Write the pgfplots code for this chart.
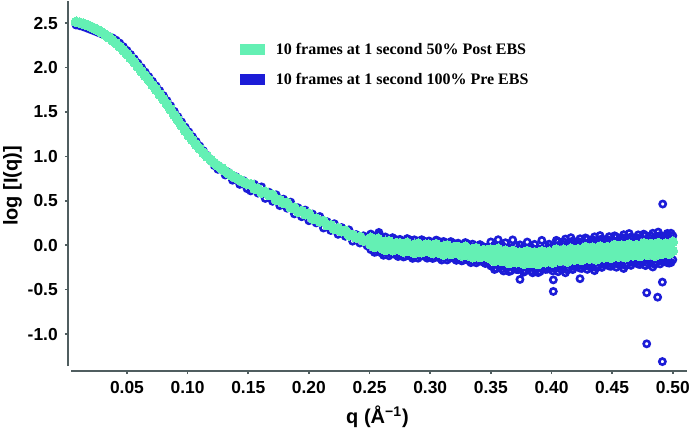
\documentclass[border=0pt]{standalone}
\usepackage{pgfplots}
\pgfplotsset{compat=1.18}
\usepackage{fontspec}
\setmainfont{Liberation Sans}
\newfontfamily\legfont{Liberation Serif}
\definecolor{greenc}{RGB}{100,240,180}
\definecolor{bluec}{RGB}{28,28,215}
\definecolor{axisc}{RGB}{80,94,96}
\begin{document}
\begin{tikzpicture}
\begin{axis}[
  scale only axis, width=309.5pt, height=185pt,
  xmin=0.0014, xmax=0.5117, ymin=-1.416, ymax=2.75,
  clip=false,
  axis lines=left, axis line style={-, draw=none},
  tick align=outside, major tick length=1.6pt,
  tick style={draw=axisc, line width=0.8pt},
  xtick={0.05,0.10,0.15,0.20,0.25,0.30,0.35,0.40,0.45,0.50},
  xticklabels={0.05,0.10,0.15,0.20,0.25,0.30,0.35,0.40,0.45,0.50},
  ytick={-1.0,-0.5,0,0.5,1.0,1.5,2.0,2.5},
  yticklabels={-1.0,-0.5,0.0,0.5,1.0,1.5,2.0,2.5},
  ticklabel style={font=\bfseries\fontsize{8.7}{10}\selectfont},
  /pgf/number format/assume math mode=true,
  xlabel={q (Å\textsuperscript{−1})},
  ylabel={log [I(q)]},
  label style={font=\bfseries\fontsize{10}{12}\selectfont},
  xlabel style={at={(axis description cs:0.5,-0.124)}, anchor=center},
  ylabel style={at={(axis description cs:-0.0897,0.5)}, anchor=center},
  legend style={at={(axis description cs:0.278,0.889)}, anchor=north west, draw=none, fill=none,
    inner sep=0pt, outer sep=0pt, row sep=7.5pt, column sep=5.5pt,
    font=\legfont\bfseries\fontsize{8}{9.6}\selectfont,
    nodes={inner sep=0pt, text height=6pt, text depth=1.5pt}},
  legend cell align=left,
]
\addlegendimage{legend image code/.code={\fill[greenc] (0pt,-2.5pt) rectangle (12pt,2.5pt);}}
\addlegendentry{10 frames at 1 second 50\% Post EBS}
\addlegendimage{legend image code/.code={\fill[bluec] (0pt,-2.5pt) rectangle (12pt,2.5pt);}}
\addlegendentry{10 frames at 1 second 100\% Pre EBS}

% blue: 100% Pre EBS
\addplot[bluec, forget plot, only marks, mark=o, mark size=1.55pt, mark options={draw=bluec, line width=1.3pt}] coordinates {
(0.008,2.480)(0.011,2.472)(0.014,2.460)(0.017,2.445)(0.020,2.429)(0.023,2.413)(0.026,2.397)(0.029,2.380)
(0.032,2.363)(0.035,2.351)(0.038,2.334)(0.041,2.309)(0.044,2.276)(0.047,2.236)(0.050,2.193)(0.053,2.147)
(0.056,2.099)(0.059,2.050)(0.062,2.000)(0.065,1.950)(0.068,1.898)(0.071,1.846)(0.074,1.794)(0.077,1.740)
(0.080,1.685)(0.083,1.628)(0.086,1.570)(0.089,1.508)(0.092,1.447)(0.095,1.388)(0.098,1.330)(0.101,1.276)
(0.104,1.222)(0.107,1.169)(0.110,1.117)(0.113,1.064)(0.116,1.012)(0.119,0.952)(0.122,0.897)(0.125,0.855)
(0.128,0.870)(0.131,0.791)(0.134,0.818)(0.137,0.732)(0.140,0.770)(0.143,0.685)(0.146,0.728)(0.149,0.637)
(0.152,0.612)(0.155,0.687)(0.158,0.587)(0.161,0.657)(0.164,0.527)(0.167,0.597)(0.170,0.495)(0.173,0.568)
(0.176,0.446)(0.179,0.519)(0.182,0.417)(0.185,0.485)(0.188,0.353)(0.191,0.422)(0.194,0.321)(0.197,0.396)
(0.200,0.276)(0.203,0.351)(0.206,0.252)(0.209,0.323)(0.212,0.194)(0.215,0.265)(0.218,0.166)(0.221,0.242)
(0.224,0.123)(0.227,0.199)(0.230,0.101)(0.233,0.173)(0.236,0.046)(0.239,0.120)(0.242,0.025)(0.245,0.106)
(0.248,-0.007)
(0.251,0.126)(0.251,-0.049)(0.254,0.090)(0.254,-0.080)(0.257,0.120)(0.257,-0.050)(0.260,0.081)(0.260,-0.089)
(0.263,0.093)(0.263,-0.077)(0.266,0.051)(0.266,-0.119)(0.269,0.085)(0.269,-0.075)(0.272,0.060)(0.272,-0.110)
(0.275,0.066)(0.275,-0.109)(0.278,0.038)(0.278,-0.132)(0.281,0.075)(0.281,-0.095)(0.284,0.043)(0.284,-0.127)
(0.287,0.061)(0.287,-0.109)(0.290,0.024)(0.290,-0.146)(0.293,0.062)(0.293,-0.098)(0.296,0.040)(0.296,-0.130)
(0.299,0.048)(0.299,-0.127)(0.302,0.021)(0.302,-0.149)(0.305,0.058)(0.305,-0.112)(0.308,0.025)(0.308,-0.145)
(0.311,0.042)(0.311,-0.128)(0.314,0.004)(0.314,-0.166)(0.317,0.041)(0.317,-0.119)(0.320,0.017)(0.320,-0.153)
(0.323,0.023)(0.323,-0.152)(0.326,-0.006)(0.326,-0.176)(0.329,0.030)(0.329,-0.140)(0.332,-0.004)(0.332,-0.174)
(0.335,0.012)(0.335,-0.158)(0.338,-0.028)(0.338,-0.198)(0.341,0.007)(0.341,-0.153)(0.344,-0.018)(0.344,-0.193)
(0.347,-0.023)(0.347,-0.188)
(0.2525,0.106)(0.2555,-0.075)(0.2585,0.106)(0.2615,-0.113)(0.2645,0.060)(0.2675,-0.097)(0.2705,0.068)(0.2735,-0.127)
(0.2765,0.050)(0.2795,-0.124)(0.2825,0.064)(0.2855,-0.148)(0.2885,0.030)(0.2915,-0.122)(0.2945,0.046)(0.2975,-0.146)
(0.3005,0.032)(0.3035,-0.141)(0.3065,0.047)(0.3095,-0.167)(0.3125,0.011)(0.3155,-0.143)(0.3185,0.024)(0.3215,-0.170)
(0.3245,0.006)(0.3275,-0.168)(0.3305,0.018)(0.3335,-0.196)(0.3365,-0.021)(0.3395,-0.176)(0.3425,-0.011)(0.3455,-0.206)
(0.3485,-0.031)
(0.350,0.037)(0.350,-0.233)(0.353,0.002)(0.353,-0.273)(0.356,0.062)(0.356,-0.223)(0.359,0.002)(0.359,-0.268)
(0.362,0.028)(0.362,-0.242)(0.365,-0.026)(0.365,-0.296)(0.368,0.060)(0.368,-0.230)(0.371,-0.003)(0.371,-0.273)
(0.374,0.004)(0.374,-0.266)(0.377,-0.028)(0.377,-0.303)(0.380,0.036)(0.380,-0.249)(0.383,-0.020)(0.383,-0.290)
(0.386,0.010)(0.386,-0.260)(0.389,-0.038)(0.389,-0.308)(0.392,0.055)(0.392,-0.235)(0.395,-0.002)(0.395,-0.272)
(0.398,0.012)(0.398,-0.258)(0.401,-0.014)(0.401,-0.289)(0.404,0.055)(0.404,-0.230)(0.407,0.004)(0.407,-0.266)
(0.410,0.038)(0.410,-0.232)(0.413,-0.008)(0.413,-0.278)(0.416,0.085)(0.416,-0.205)(0.419,0.028)(0.419,-0.242)
(0.422,0.041)(0.422,-0.229)(0.425,0.014)(0.425,-0.261)(0.428,0.082)(0.428,-0.203)(0.431,0.030)(0.431,-0.240)
(0.434,0.063)(0.434,-0.207)(0.437,0.016)(0.437,-0.254)(0.440,0.109)(0.440,-0.181)(0.443,0.052)(0.443,-0.218)
(0.446,0.065)(0.446,-0.205)(0.449,0.038)(0.449,-0.237)(0.452,0.106)(0.452,-0.179)(0.455,0.054)(0.455,-0.216)
(0.458,0.087)(0.458,-0.183)(0.461,0.040)(0.461,-0.230)(0.464,0.132)(0.464,-0.158)(0.467,0.074)(0.467,-0.196)
(0.470,0.086)(0.470,-0.184)(0.473,0.068)(0.473,-0.217)(0.476,0.125)(0.476,-0.170)(0.479,0.052)(0.479,-0.198)
(0.482,0.104)(0.482,-0.166)(0.485,0.056)(0.485,-0.214)(0.488,0.148)(0.488,-0.142)(0.491,0.090)(0.491,-0.180)
(0.494,0.102)(0.494,-0.168)(0.497,0.074)(0.497,-0.201)(0.500,0.106)(0.500,-0.164)
(0.3515,-0.046)(0.3515,-0.226)(0.3545,-0.021)(0.3545,-0.261)(0.3575,-0.066)(0.3575,-0.216)(0.3605,-0.020)(0.3605,-0.290)
(0.3635,-0.054)(0.3635,-0.254)(0.3665,-0.048)(0.3665,-0.288)(0.3695,-0.092)(0.3695,-0.242)(0.3725,-0.045)(0.3725,-0.275)
(0.3755,-0.077)(0.3755,-0.257)(0.3785,-0.049)(0.3785,-0.289)(0.3815,-0.090)(0.3815,-0.240)(0.3845,-0.040)(0.3845,-0.310)
(0.3875,-0.069)(0.3875,-0.269)(0.3905,-0.057)(0.3905,-0.297)(0.3935,-0.094)(0.3935,-0.244)(0.3965,-0.040)(0.3965,-0.270)
(0.3995,-0.066)(0.3995,-0.246)
(0.4025,-0.002)(0.4025,-0.262)(0.4055,0.042)(0.4055,-0.298)(0.4085,-0.014)(0.4085,-0.234)(0.4115,0.070)(0.4115,-0.310)
(0.4145,0.024)(0.4145,-0.257)(0.4175,0.047)(0.4175,-0.274)(0.4205,0.010)(0.4205,-0.231)(0.4235,0.073)(0.4235,-0.258)
(0.4265,0.026)(0.4265,-0.235)(0.4295,0.069)(0.4295,-0.272)(0.4325,0.012)(0.4325,-0.209)(0.4355,0.095)(0.4355,-0.286)
(0.4385,0.048)(0.4385,-0.233)(0.4415,0.071)(0.4415,-0.250)(0.4445,0.034)(0.4445,-0.207)(0.4475,0.097)(0.4475,-0.234)
(0.4505,0.050)(0.4505,-0.211)(0.4535,0.093)(0.4535,-0.248)(0.4565,0.036)(0.4565,-0.185)(0.4595,0.119)(0.4595,-0.262)
(0.4625,0.071)(0.4625,-0.209)(0.4655,0.093)(0.4655,-0.227)(0.4685,0.055)(0.4685,-0.185)(0.4715,0.117)(0.4715,-0.213)
(0.4745,0.069)(0.4745,-0.191)(0.4775,0.111)(0.4775,-0.229)(0.4805,0.053)(0.4805,-0.167)(0.4835,0.135)(0.4835,-0.245)
(0.4865,0.087)(0.4865,-0.193)(0.4895,0.109)(0.4895,-0.211)(0.4925,0.071)(0.4925,-0.169)(0.4955,0.133)(0.4955,-0.197)
(0.4985,0.135)(0.4985,-0.195)
(0.2577,0.144)(0.374,-0.385)(0.4015,-0.390)(0.4015,-0.520)(0.4235,-0.377)(0.4785,-0.535)(0.4875,-0.585)
(0.4914,-0.415)(0.4785,-1.110)(0.4914,-1.310)(0.4917,0.464)
};

% green: 50% Post EBS
\addplot[greenc, forget plot, only marks, mark=*, mark size=2.45pt, mark options={draw=greenc, fill=greenc, line width=0pt}] coordinates {
(0.008,2.515)(0.011,2.507)(0.014,2.495)(0.017,2.480)(0.020,2.462)(0.023,2.443)(0.026,2.422)(0.029,2.398)
(0.032,2.371)(0.035,2.341)(0.038,2.309)(0.041,2.274)(0.044,2.236)(0.047,2.196)(0.050,2.153)(0.053,2.107)
(0.056,2.059)(0.059,2.010)(0.062,1.960)(0.065,1.910)(0.068,1.858)(0.071,1.806)(0.074,1.754)(0.077,1.700)
(0.080,1.645)(0.083,1.588)(0.086,1.530)(0.089,1.468)(0.092,1.407)(0.095,1.348)(0.098,1.290)(0.101,1.236)
(0.104,1.184)(0.107,1.134)(0.110,1.087)(0.113,1.042)(0.116,1.000)(0.119,0.962)(0.122,0.927)(0.125,0.895)
(0.128,0.865)(0.131,0.836)(0.134,0.808)(0.137,0.782)(0.140,0.758)(0.143,0.735)(0.146,0.713)(0.149,0.692)
(0.152,0.687)(0.155,0.640)(0.158,0.636)(0.161,0.594)(0.164,0.602)(0.167,0.566)(0.170,0.567)(0.173,0.513)
(0.176,0.508)(0.179,0.475)(0.182,0.477)(0.185,0.428)(0.188,0.422)(0.191,0.379)(0.194,0.386)(0.197,0.350)
(0.200,0.353)(0.203,0.301)(0.206,0.299)(0.209,0.269)(0.212,0.274)(0.215,0.228)(0.218,0.225)(0.221,0.184)
(0.224,0.193)(0.227,0.158)(0.230,0.163)(0.233,0.113)(0.236,0.113)(0.239,0.086)(0.242,0.095)(0.245,0.054)
(0.248,0.057)
(0.251,0.083)(0.251,0.010)(0.254,0.055)(0.254,-0.019)(0.257,0.073)(0.257,0.003)(0.260,0.025)(0.260,-0.031)
(0.263,0.038)(0.263,-0.053)(0.266,0.045)(0.266,-0.029)(0.269,0.011)(0.269,-0.055)(0.272,0.024)(0.272,-0.026)
(0.275,0.023)(0.275,-0.050)(0.278,0.003)(0.278,-0.071)(0.281,0.028)(0.281,-0.042)(0.284,-0.013)(0.284,-0.069)
(0.287,0.006)(0.287,-0.085)(0.290,0.018)(0.290,-0.056)(0.293,-0.012)(0.293,-0.078)(0.296,0.004)(0.296,-0.046)
(0.299,0.005)(0.299,-0.068)(0.302,-0.014)(0.302,-0.088)(0.305,0.011)(0.305,-0.059)(0.308,-0.031)(0.308,-0.087)
(0.311,-0.013)(0.311,-0.104)(0.314,-0.002)(0.314,-0.076)(0.317,-0.033)(0.317,-0.099)(0.320,-0.019)(0.320,-0.069)
(0.323,-0.020)(0.323,-0.093)(0.326,-0.041)(0.326,-0.115)(0.329,-0.017)(0.329,-0.087)(0.332,-0.060)(0.332,-0.116)
(0.335,-0.043)(0.335,-0.134)(0.338,-0.034)(0.338,-0.108)(0.341,-0.067)(0.341,-0.133)(0.344,-0.054)(0.344,-0.104)
(0.347,-0.056)(0.347,-0.129)
(0.350,-0.049)(0.350,-0.151)(0.353,-0.072)(0.353,-0.178)(0.356,-0.041)(0.356,-0.143)(0.359,-0.094)(0.359,-0.178)
(0.362,-0.062)(0.362,-0.164)(0.365,-0.080)(0.365,-0.200)(0.368,-0.064)(0.368,-0.154)(0.371,-0.103)(0.371,-0.191)
(0.374,-0.082)(0.374,-0.184)(0.377,-0.102)(0.377,-0.208)(0.380,-0.067)(0.380,-0.169)(0.383,-0.116)(0.383,-0.200)
(0.386,-0.080)(0.386,-0.182)(0.389,-0.092)(0.389,-0.212)(0.392,-0.069)(0.392,-0.159)(0.395,-0.102)(0.395,-0.190)
(0.398,-0.074)(0.398,-0.176)(0.401,-0.088)(0.401,-0.194)(0.404,-0.048)(0.404,-0.150)(0.407,-0.092)(0.407,-0.176)
(0.410,-0.052)(0.410,-0.154)(0.413,-0.062)(0.413,-0.182)(0.416,-0.039)(0.416,-0.129)(0.419,-0.072)(0.419,-0.160)
(0.422,-0.045)(0.422,-0.147)(0.425,-0.060)(0.425,-0.166)(0.428,-0.021)(0.428,-0.123)(0.431,-0.066)(0.431,-0.150)
(0.434,-0.027)(0.434,-0.129)(0.437,-0.038)(0.437,-0.158)(0.440,-0.015)(0.440,-0.105)(0.443,-0.048)(0.443,-0.136)
(0.446,-0.021)(0.446,-0.123)(0.449,-0.036)(0.449,-0.142)(0.452,0.003)(0.452,-0.099)(0.455,-0.042)(0.455,-0.126)
(0.458,-0.003)(0.458,-0.105)(0.461,-0.014)(0.461,-0.134)(0.464,0.008)(0.464,-0.082)(0.467,-0.026)(0.467,-0.114)
(0.470,0.000)(0.470,-0.102)(0.473,-0.016)(0.473,-0.122)(0.476,0.022)(0.476,-0.080)(0.479,-0.024)(0.479,-0.108)
(0.482,0.014)(0.482,-0.088)(0.485,0.002)(0.485,-0.118)(0.488,0.024)(0.488,-0.066)(0.491,-0.010)(0.491,-0.098)
(0.494,0.016)(0.494,-0.086)(0.497,-0.006)(0.497,-0.094)(0.500,0.038)(0.500,-0.062)
};

\draw[axisc, line width=1pt] (rel axis cs:0,0.0135) -- (rel axis cs:0,1);
\draw[axisc, line width=1pt] (rel axis cs:0.005,0) -- (rel axis cs:1,0);
\end{axis}
\pgfresetboundingbox
\path (-34pt,-28.5pt) rectangle (312pt,185.5pt);
\end{tikzpicture}
\end{document}
